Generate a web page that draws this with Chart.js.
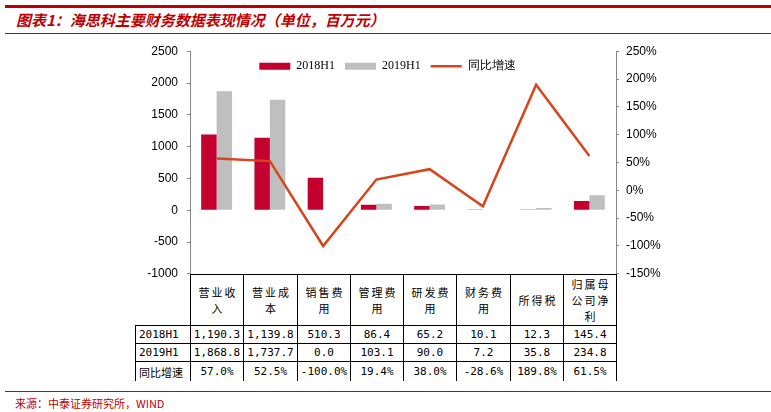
<!DOCTYPE html>
<html>
<head>
<meta charset="utf-8">
<script src="https://cdn.jsdelivr.net/npm/chart.js@4/dist/chart.umd.min.js"></script>
<style>
  body { margin: 0; width: 771px; height: 412px; background: #fff; position: relative; overflow: hidden;
         font-family: "Noto Sans CJK SC", sans-serif; }
  .rule { position: absolute; left: 5px; right: 0; }
  .title { position: absolute; left: 16px; top: 10px; font-size: 15px; line-height: 20px; font-weight: bold;
           font-style: italic; color: #c00000; white-space: nowrap; }
  .source { position: absolute; left: 15px; top: 396px; font-size: 11px; line-height: 14px; color: #c00000; }
  #wrap { position: absolute; left: 0; top: 35px; width: 771px; height: 255px; z-index: 2; pointer-events: none; }
  #tbl { position: absolute; left: 0; top: 0; z-index: 1; }
  .ln { position: absolute; background: #000; }
  .cell { position: absolute; box-sizing: border-box; display: flex; align-items: center; justify-content: center;
          text-align: center; color: #000; white-space: pre-line; }
  .hd { font-size: 11px; line-height: 16px; letter-spacing: 2px; padding-left: 2px; }
  .num { font-family: "DejaVu Sans Mono", monospace; font-size: 11px; }
  .lab { justify-content: flex-start; padding-left: 3px; font-size: 11px; }
</style>
</head>
<body>
<div class="rule" style="top:5px;height:3px;background:#c00000"></div>
<div class="title">图表1：海思科主要财务数据表现情况（单位，百万元）</div>
<div class="rule" style="top:33px;height:1px;background:#a01010"></div>
<div id="wrap"><canvas id="chart" width="771" height="255"></canvas></div>
<div id="tbl"></div>
<div class="rule" style="top:391px;height:1px;background:#a0102a"></div>
<div class="source">来源：中泰证券研究所，WIND</div>

<script>
// categories, shown wrapped the way the table header wraps them
const categories = ['营业收\n入', '营业成\n本', '销售费\n用', '管理费\n用', '研发费\n用', '财务费\n用', '所得税', '归属母\n公司净\n利'];
const h1_2018 = [1190.3, 1139.8, 510.3, 86.4, 65.2, 10.1, 12.3, 145.4];
const h1_2019 = [1868.8, 1737.7, 0.0, 103.1, 90.0, 7.2, 35.8, 234.8];
const growth = [57.0, 52.5, -100.0, 19.4, 38.0, -28.6, 189.8, 61.5];
const seriesNames = ['2018H1', '2019H1', '同比增速'];

const RED = '#c4002f';
const GREY = '#bfbfbf';
const ORANGE = '#d6451c';
const AXIS = '#868686';

// legend sits inside the plot: it takes no height in the layout and is drawn over the chart area
const legendInPlot = {
  id: 'legendInPlot',
  beforeUpdate(chart) {
    const lg = chart.legend;
    if (lg && !lg._patched) {
      const fit = lg.fit;
      lg.fit = function () { fit.call(this); this.height = 0; };
      lg._patched = true;
    }
  },
  afterLayout(chart) {
    const lg = chart.legend;
    if (lg) {
      lg.top = chart.chartArea.top - 1;
      lg.bottom = lg.top + 30;
      lg.left += 2;
      lg.right += 2;
    }
  }
};

const chart = new Chart(document.getElementById('chart'), {
  data: {
    labels: categories.map(c => c.replace(/\n/g, '')),
    datasets: [
      {
        type: 'line', label: seriesNames[2], data: growth, yAxisID: 'y2',
        borderColor: ORANGE, backgroundColor: ORANGE, borderWidth: 2.5,
        pointRadius: 0, pointStyle: 'line', tension: 0, order: 0
      },
      {
        type: 'bar', label: seriesNames[0], data: h1_2018, yAxisID: 'y',
        backgroundColor: RED, borderWidth: 0, pointStyle: 'rect',
        categoryPercentage: 0.58, barPercentage: 1, order: 1
      },
      {
        type: 'bar', label: seriesNames[1], data: h1_2019, yAxisID: 'y',
        backgroundColor: GREY, borderWidth: 0, pointStyle: 'rect',
        categoryPercentage: 0.58, barPercentage: 1, order: 1
      }
    ]
  },
  options: {
    responsive: false,
    animation: false,
    layout: { padding: { left: 0, right: 0, top: 5, bottom: 12 } },
    plugins: {
      tooltip: { enabled: false },
      legend: {
        position: 'top',
        align: 'center',
        labels: {
          usePointStyle: true,
          pointStyleWidth: 31,
          boxHeight: 7,
          padding: 10,
          color: '#000',
          font: { family: '"Liberation Serif", "Times New Roman", serif', size: 12 },
          sort: (a, b) => (a.datasetIndex === 0 ? 1 : 0) - (b.datasetIndex === 0 ? 1 : 0)
        }
      }
    },
    scales: {
      x: { display: false, offset: true },
      y: {
        position: 'left', min: -1000, max: 2500,
        afterFit: s => { s.width = 190; },
        border: { color: AXIS, width: 1 },
        grid: { drawOnChartArea: false, tickLength: 3, color: AXIS },
        ticks: {
          stepSize: 500, padding: 9, color: '#000',
          font: { family: '"Liberation Sans", Arial, sans-serif', size: 12 },
          callback: v => String(v)
        }
      },
      y2: {
        position: 'right', min: -150, max: 250,
        afterFit: s => { s.width = 155; },
        border: { color: AXIS, width: 1 },
        grid: { drawOnChartArea: false, tickLength: 3, color: AXIS },
        ticks: {
          stepSize: 50, padding: 7, color: '#000',
          font: { family: '"Liberation Sans", Arial, sans-serif', size: 12 },
          callback: v => v + '%'
        }
      }
    }
  },
  plugins: [legendInPlot]
});

// data table under the plot, lined up with the category scale
(function buildTable() {
  const tbl = document.getElementById('tbl');
  const area = chart.chartArea;
  const top0 = 35;
  const left = area.left, right = area.right;
  const catW = (right - left) / categories.length;
  const yTop = Math.round(top0 + area.bottom);
  const yHead = yTop + 51;
  const rowH = [18, 18, 20];
  const labelLeft = left - 55;
  const fmt = v => v.toLocaleString('en-US', { minimumFractionDigits: 1, maximumFractionDigits: 1 });
  const rows = [
    { name: seriesNames[0], vals: h1_2018.map(fmt) },
    { name: seriesNames[1], vals: h1_2019.map(fmt) },
    { name: seriesNames[2], vals: growth.map(v => v.toFixed(1) + '%') }
  ];
  const yEnd = yHead + rowH.reduce((a, b) => a + b, 0);

  function line(x, y, w, h) {
    const d = document.createElement('div');
    d.className = 'ln';
    d.style.cssText = `left:${x}px;top:${y}px;width:${w}px;height:${h}px`;
    tbl.appendChild(d);
  }
  function cell(x, y, w, h, text, cls) {
    const d = document.createElement('div');
    d.className = 'cell ' + cls;
    d.style.cssText = `left:${x}px;top:${y}px;width:${w}px;height:${h}px`;
    d.textContent = text;
    tbl.appendChild(d);
  }

  // header
  line(left, yTop, right - left + 1, 1);
  categories.forEach((c, i) => {
    const x = Math.round(left + i * catW);
    const x2 = Math.round(left + (i + 1) * catW);
    cell(x + 1, yTop + 1, x2 - x - 1, yHead - yTop - 1, c, 'hd');
  });

  // rows
  let y = yHead;
  rows.forEach((r, ri) => {
    line(labelLeft, y, right - labelLeft + 1, 1);
    cell(labelLeft + 1, y + 1, left - labelLeft - 1, rowH[ri] - 1, r.name, ri < 2 ? 'lab num' : 'lab');
    r.vals.forEach((v, i) => {
      const x = Math.round(left + i * catW);
      const x2 = Math.round(left + (i + 1) * catW);
      cell(x + 1, y + 1, x2 - x - 1, rowH[ri] - 1, v, 'num');
    });
    y += rowH[ri];
  });

  // verticals
  line(labelLeft, yHead, 1, yEnd - yHead);
  for (let i = 0; i <= categories.length; i++) {
    line(Math.round(left + i * catW), yTop, 1, yEnd - yTop);
  }
})();
</script>
</body>
</html>
